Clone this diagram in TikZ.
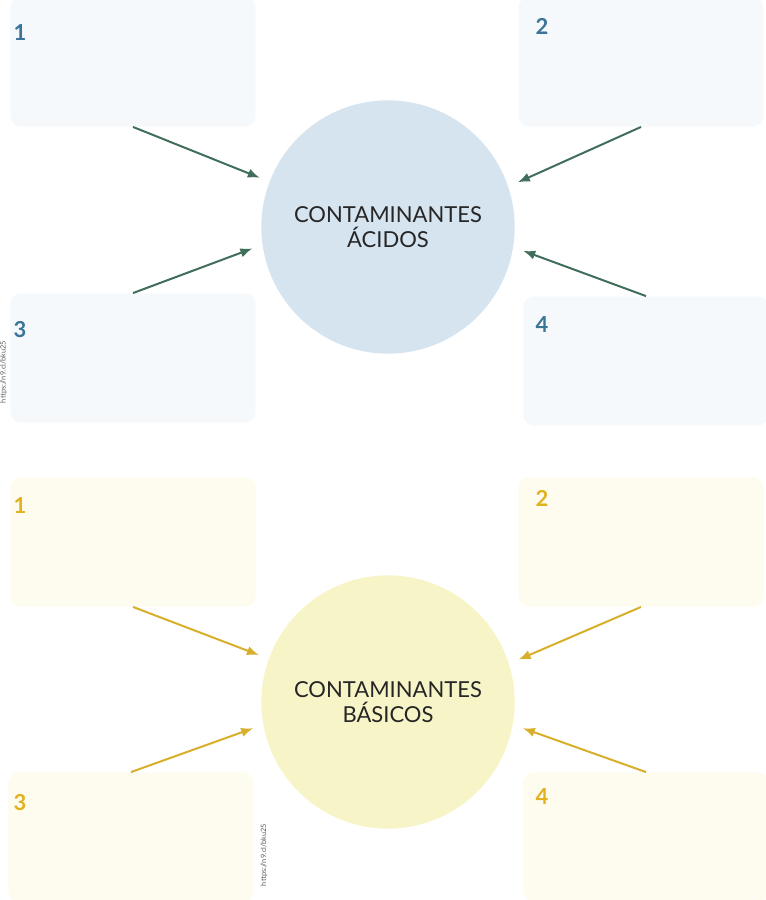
\documentclass[tikz,border=0pt]{standalone}
\usepackage{fontspec}
\setmainfont{Lato}
\usetikzlibrary{arrows.meta}
\definecolor{acidfill}{RGB}{214,228,240}
\definecolor{acidbox}{RGB}{246,249,252}
\definecolor{acidnum}{RGB}{58,117,153}
\definecolor{acidedge}{RGB}{64,110,90}
\definecolor{basefill}{RGB}{247,245,200}
\definecolor{basebox}{RGB}{254,252,239}
\definecolor{basenum}{RGB}{226,177,30}
\definecolor{baseedge}{RGB}{216,175,42}
\definecolor{urlgray}{RGB}{90,90,90}

\begin{document}
\begin{tikzpicture}[x=0.75pt, y=-0.75pt,
    card/.style={rounded corners=8pt, minimum width=184pt, minimum height=97pt, inner sep=0pt},
    hub/.style={circle, minimum size=190pt, inner sep=0pt, outer sep=8pt, align=center,
        text=black!85, font=\fontsize{16.5}{18.75}\selectfont},
    num/.style={font=\fontsize{16.5}{18}\selectfont\bfseries, inner sep=0pt},
    link/.style={line width=1.5pt, -{Latex[length=9pt,width=7pt]}},
    url/.style={rotate=90, text=urlgray, font=\fontsize{5.5}{6}\selectfont, inner sep=0pt}]
    \useasboundingbox (0,0) rectangle (766,900);
    % acidos
    \node[card, fill=acidbox] (a1) at (133,62) {};
    \node[card, fill=acidbox] (a2) at (641,62) {};
    \node[card, fill=acidbox] (a3) at (133,358) {};
    \node[card, fill=acidbox] (a4) at (646,361) {};
    \node[num, text=acidnum] (na1) at (20,33) {1};
    \node[num, text=acidnum] (na2) at (542,26) {2};
    \node[num, text=acidnum] (na3) at (20,330) {3};
    \node[num, text=acidnum] (na4) at (542,325) {4};
    \node[hub, fill=acidfill] (acidos) at (388,227) {CONTAMINANTES\\ÁCIDOS};
    \draw[link, color=acidedge] (a1.south) -- (acidos.159);
    \draw[link, color=acidedge] (a2.south) -- (acidos.19);
    \draw[link, color=acidedge] (a3.north) -- (acidos.189);
    \draw[link, color=acidedge] (a4.north) -- (acidos.350);
    \node[url] (urla) at (3.5,372) {https://n9.cl/bku25};
    % basicos
    \node[card, fill=basebox] (b1) at (133,542) {};
    \node[card, fill=basebox] (b2) at (641,542) {};
    \node[card, fill=basebox] (b3) at (131,837) {};
    \node[card, fill=basebox] (b4) at (646,837) {};
    \node[num, text=basenum] (nb1) at (20,506) {1};
    \node[num, text=basenum] (nb2) at (542,498) {2};
    \node[num, text=basenum] (nb3) at (20,803) {3};
    \node[num, text=basenum] (nb4) at (542,797) {4};
    \node[hub, fill=basefill] (basicos) at (388,702) {CONTAMINANTES\\BÁSICOS};
    \draw[link, color=baseedge] (b1.south) -- (basicos.160);
    \draw[link, color=baseedge] (b2.south) -- (basicos.18);
    \draw[link, color=baseedge] (b3.north) -- (basicos.191);
    \draw[link, color=baseedge] (b4.north) -- (basicos.349);
    \node[url] (urlb) at (264,855) {https://n9.cl/bku25};
\end{tikzpicture}
\end{document}
